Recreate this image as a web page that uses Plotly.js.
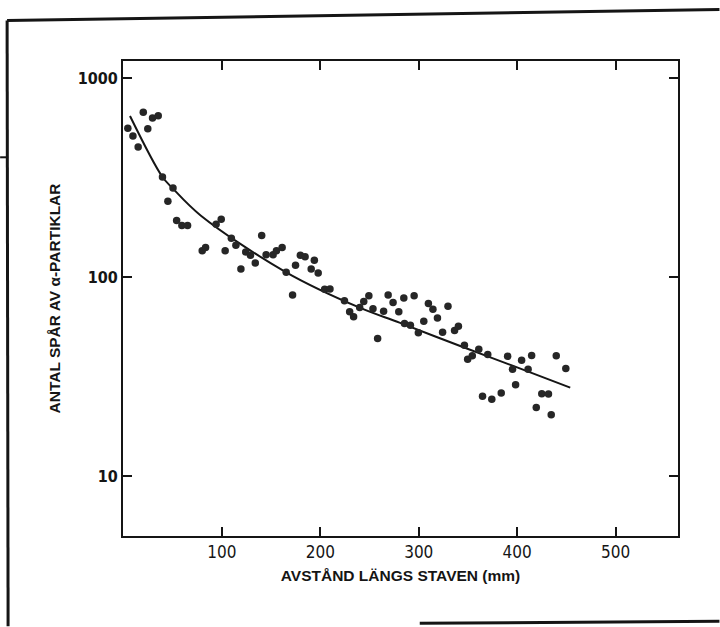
<!DOCTYPE html>
<html>
<head>
<meta charset="utf-8">
<script src="https://cdn.plot.ly/plotly-3.0.1.min.js"></script>
<style>
  html, body { margin: 0; padding: 0; background: #ffffff; }
  #chart { width: 720px; height: 627px; }
</style>
</head>
<body>
<div id="chart"></div>
<script>
// Measured points: distance along the rod (mm) and number of alpha tracks
const distance = [4.4, 9.6, 14.9, 20.1, 24.7, 29.5, 35.3, 39.6, 45.1, 50.3, 54.0, 59.3, 65.1,
  80.0, 83.4, 94.1, 99.3, 103.3, 109.6, 114.2, 119.3, 124.2, 129.0, 133.9, 140.4, 144.9,
  152.0, 155.4, 161.2, 165.3, 171.8, 174.8, 179.7, 184.5, 190.7, 193.9, 197.8, 204.4, 209.8,
  224.5, 229.8, 233.8, 240.0, 244.1, 249.3, 253.5, 258.2, 264.3, 268.9, 273.9, 279.7, 284.8,
  285.5, 291.5, 295.3, 299.6, 305.1, 309.8, 314.4, 319.0, 324.2, 329.7, 336.4, 340.3, 346.4,
  349.7, 354.4, 361.0, 364.8, 370.1, 374.2, 383.8, 390.3, 395.3, 398.4, 404.5, 411.1, 414.7,
  419.4, 425.0, 431.8, 434.6, 439.7, 449.4];
const trackCount = [560, 513, 451, 675, 557, 632, 648, 319, 241, 281, 193, 182, 182,
  136, 141, 185, 196, 136, 157, 145, 110, 134, 129, 118, 162, 130,
  130, 136, 141, 106, 81.5, 115, 129, 127, 110, 122, 105, 87.1, 87.3,
  76.3, 67.1, 63.3, 70.5, 75.5, 80.8, 69.6, 49.3, 67.5, 81.6, 74.8, 67.1, 78.7,
  58.7, 57.4, 80.7, 52.6, 60.2, 73.8, 69.1, 62.4, 52.9, 71.6, 54.1, 56.8, 45.6,
  38.8, 40.4, 43.5, 25.3, 41.0, 24.4, 26.2, 40.1, 34.5, 28.9, 38.3, 34.5, 40.5,
  22.2, 26.0, 25.9, 20.4, 40.4, 34.8];

// Fitted curve
const fitDistance = [6.6, 39.6, 49.7, 78.7, 165.3, 240.0, 280.4, 346.1, 394.6, 453.9];
const fitCount = [646, 319, 281, 204, 106, 70.4, 59.2, 44.4, 36.1, 27.9];

// Axis ticks
const xTickVals = [100, 200, 300, 400, 500];
const xTickText = ['100', '200', '300', '400', '500'];
const yTickVals = [10, 100, 1000];
const yTickText = ['10', '100', '1000'];

const ink = '#151515';
const condensed = 'DejaVu Sans Condensed, Liberation Sans Narrow, sans-serif';

const traces = [
  {
    x: fitDistance, y: fitCount, type: 'scatter', mode: 'lines',
    line: { color: ink, width: 2, shape: 'spline', smoothing: 1 },
    hoverinfo: 'skip', showlegend: false
  },
  {
    x: distance, y: trackCount, type: 'scatter', mode: 'markers',
    marker: { color: '#262626', size: 7.5, line: { width: 0 } },
    showlegend: false
  }
];

const L = 123, R = 678.5, T = 60.5, B = 536.5;
const W = 720, H = 627;
const px = v => (v - L) / (R - L);
const py = v => (B - v) / (B - T);

const frameLine = { color: ink, width: 3 };

const layout = {
  width: W, height: H,
  margin: { l: L, r: W - R, t: T, b: H - B, pad: 0 },
  paper_bgcolor: '#ffffff', plot_bgcolor: '#ffffff',
  showlegend: false,
  xaxis: {
    range: [-0.5, 563.4],
    tickvals: xTickVals, ticktext: xTickText,
    ticks: 'inside', ticklen: 9, tickwidth: 2, tickcolor: ink,
    showline: true, linewidth: 2, linecolor: ink, mirror: 'ticks',
    showgrid: false, zeroline: false,
    tickfont: { family: condensed, size: 17, color: ink },
    title: {
      text: '<b>AVSTÅND LÄNGS STAVEN (mm)</b>',
      font: { family: 'Liberation Sans, Arial, sans-serif', size: 15.5, color: ink },
      standoff: 9
    }
  },
  yaxis: {
    type: 'log',
    range: [0.7006, 3.0866],
    tickvals: yTickVals, ticktext: yTickText,
    ticks: 'inside', ticklen: 9, tickwidth: 2, tickcolor: ink,
    showline: true, linewidth: 2, linecolor: ink, mirror: 'ticks',
    showgrid: false, zeroline: false,
    tickfont: { family: condensed, size: 16, color: ink, weight: 'bold' },
    title: {
      text: '<b>ANTAL SPÅR AV α-PARTIKLAR</b>',
      font: { family: 'Liberation Sans, Arial, sans-serif', size: 15.5, color: ink },
      standoff: 13
    }
  },
  shapes: [
    // scanned page border
    { type: 'line', xref: 'paper', yref: 'paper', x0: px(7), y0: py(20), x1: px(8), y1: py(627), line: frameLine },
    { type: 'line', xref: 'paper', yref: 'paper', x0: px(7), y0: py(20), x1: px(720), y1: py(9), line: frameLine },
    { type: 'line', xref: 'paper', yref: 'paper', x0: px(0), y0: py(157), x1: px(8), y1: py(157), line: { color: ink, width: 2 } },
    { type: 'line', xref: 'paper', yref: 'paper', x0: px(420), y0: py(624), x1: px(720), y1: py(622), line: { color: ink, width: 3 } }
  ]
};

Plotly.newPlot('chart', traces, layout, { staticPlot: true, displayModeBar: false });
</script>
</body>
</html>
